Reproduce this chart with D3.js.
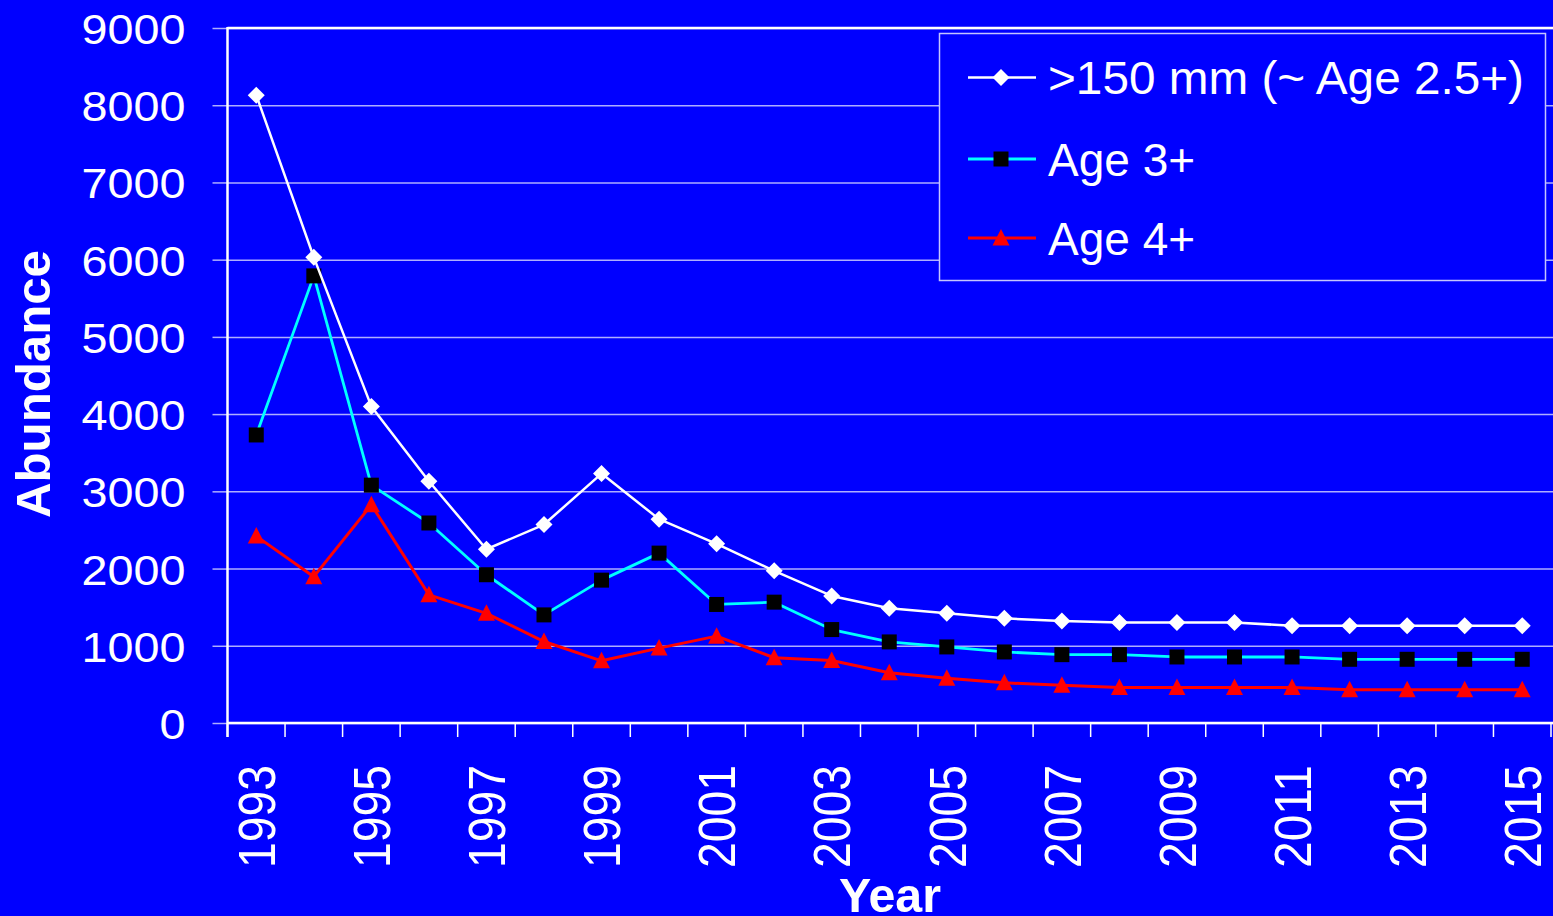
<!DOCTYPE html>
<html>
<head>
<meta charset="utf-8">
<script src="https://cdn.jsdelivr.net/npm/d3@7"></script>
<style>
  html, body { margin: 0; padding: 0; background: #0000ff; overflow: hidden; }
  svg { display: block; font-family: "Liberation Sans", Arial, sans-serif; }
</style>
</head>
<body>
<div id="chart"></div>
<script>
const years = ["1993","1994","1995","1996","1997","1998","1999","2000","2001","2002","2003","2004",
  "2005","2006","2007","2008","2009","2010","2011","2012","2013","2014","2015"];
const over150 = [8130, 6030, 4100, 3130, 2250, 2570, 3230, 2640, 2320, 1970, 1645, 1485,
  1420, 1355, 1320, 1300, 1300, 1300, 1260, 1260, 1260, 1260, 1260];
const age3 = [3730, 5790, 3080, 2590, 1920, 1400, 1850, 2200, 1535, 1565, 1210, 1050,
  985, 920, 885, 885, 855, 855, 855, 825, 825, 825, 825];
const age4 = [2420, 1895, 2825, 1660, 1420, 1055, 805, 970, 1125, 845, 810, 650,
  580, 520, 490, 460, 460, 460, 460, 430, 430, 430, 430];
const yTicks = [0, 1000, 2000, 3000, 4000, 5000, 6000, 7000, 8000, 9000];
const xLabels = ["1993","1995","1997","1999","2001","2003","2005","2007","2009","2011","2013","2015"];

const seriesNames = [">150 mm (~ Age 2.5+)", "Age 3+", "Age 4+"];

const width = 1553, height = 916;
const plotLeft = 227.5, plotRight = 1551, plotTop = 28, plotBottom = 723;
const gridColor = "#aeaeff";

const svg = d3.select("#chart").append("svg")
  .attr("width", width)
  .attr("height", height);

svg.append("rect").attr("width", width).attr("height", height).attr("fill", "#0000ff");

const x = d3.scaleBand().domain(years).range([plotLeft, plotRight]);
const y = d3.scaleLinear().domain([0, 9000]).range([plotBottom, plotTop]);

// gridlines + y ticks
const grid = svg.append("g")
  .attr("transform", `translate(${plotLeft},0)`)
  .call(d3.axisLeft(y).tickValues(yTicks).tickSize(-(width - plotLeft)).tickFormat(""));
grid.select(".domain").remove();
grid.selectAll("line").attr("stroke", gridColor).attr("stroke-width", 1.5);

const yAxis = svg.append("g")
  .attr("transform", `translate(${plotLeft},0)`)
  .call(d3.axisLeft(y).tickValues(yTicks).tickSize(15).tickPadding(27).tickFormat(d3.format("d")));
yAxis.select(".domain").remove();
yAxis.selectAll("line").attr("stroke", gridColor).attr("stroke-width", 1.5);
yAxis.selectAll("text")
  .attr("fill", "#fff")
  .attr("font-size", 43)
  .attr("dy", "0.36em")
  .attr("textLength", d => String(d).length * 26)
  .attr("lengthAdjust", "spacingAndGlyphs");

// x axis: boundary ticks
const bounds = years.map(d => x(d)).concat([plotRight]);
svg.append("g").selectAll("line")
  .data(bounds)
  .join("line")
  .attr("x1", d => d).attr("x2", d => d)
  .attr("y1", plotBottom).attr("y2", plotBottom + 14)
  .attr("stroke", "#fff").attr("stroke-width", 1.5);

const xAxis = svg.append("g")
  .attr("transform", `translate(0,${plotBottom})`)
  .call(d3.axisBottom(x).tickSize(0).tickFormat(d => xLabels.includes(d) ? d : ""));
xAxis.select(".domain").remove();
xAxis.selectAll("text")
  .attr("fill", "#fff")
  .attr("font-size", 52)
  .attr("x", 0).attr("y", 0)
  .attr("dy", "0.36em")
  .attr("text-anchor", "end")
  .attr("transform", "translate(0,42) rotate(-90)")
  .filter(d => xLabels.includes(d))
  .attr("textLength", 103)
  .attr("lengthAdjust", "spacingAndGlyphs");

// frame
svg.append("line").attr("x1", plotLeft).attr("x2", width).attr("y1", plotTop).attr("y2", plotTop)
  .attr("stroke", "#fff").attr("stroke-width", 2.5);
svg.append("line").attr("x1", plotLeft).attr("x2", width).attr("y1", plotBottom).attr("y2", plotBottom)
  .attr("stroke", "#fff").attr("stroke-width", 2.5);
svg.append("line").attr("x1", plotLeft).attr("x2", plotLeft).attr("y1", plotTop - 1).attr("y2", plotBottom + 14)
  .attr("stroke", "#fff").attr("stroke-width", 2.5);

// marker shapes
const diamond = "M0,-8.5L8.5,0L0,8.5L-8.5,0Z";
const square = "M-7.5,-7.5H7.5V7.5H-7.5Z";
const triangle = "M0,-9L8.5,7.5H-8.5Z";

const series = [
  {name: seriesNames[0], values: over150, stroke: "#ffffff", width: 2.5, shape: diamond, fill: "#ffffff"},
  {name: seriesNames[1], values: age3, stroke: "#00ffff", width: 2.8, shape: square, fill: "#000000"},
  {name: seriesNames[2], values: age4, stroke: "#ff0000", width: 3, shape: triangle, fill: "#ff0000"}
];

const line = d3.line()
  .x((d, i) => x(years[i]) + x.bandwidth() / 2)
  .y(d => y(d));

// draw bottom series first so white is on top
series.slice().reverse().forEach(s => {
  svg.append("path")
    .attr("d", line(s.values))
    .attr("fill", "none")
    .attr("stroke", s.stroke)
    .attr("stroke-width", s.width)
    .attr("stroke-linejoin", "round");
  svg.append("g").selectAll("path")
    .data(s.values)
    .join("path")
    .attr("d", s.shape)
    .attr("transform", (d, i) => `translate(${x(years[i]) + x.bandwidth() / 2},${y(d)})`)
    .attr("fill", s.fill);
});

// axis titles
svg.append("text")
  .attr("transform", "translate(50,384) rotate(-90)")
  .attr("text-anchor", "middle")
  .attr("font-size", 48).attr("font-weight", "bold")
  .attr("fill", "#fff")
  .attr("textLength", 268).attr("lengthAdjust", "spacingAndGlyphs")
  .text("Abundance");

svg.append("text")
  .attr("x", 890).attr("y", 912)
  .attr("text-anchor", "middle")
  .attr("font-size", 48).attr("font-weight", "bold")
  .attr("fill", "#fff")
  .attr("textLength", 102).attr("lengthAdjust", "spacingAndGlyphs")
  .text("Year");

// legend
const legend = svg.append("g");
legend.append("rect")
  .attr("x", 939.5).attr("y", 33.5).attr("width", 606).attr("height", 247)
  .attr("fill", "#0000ff").attr("stroke", "#c4c4ff").attr("stroke-width", 1.5);
const rowY = [77.5, 159, 238];
series.forEach((s, i) => {
  const g = legend.append("g").attr("transform", `translate(0,${rowY[i]})`);
  g.append("line").attr("x1", 968).attr("x2", 1036).attr("y1", 0).attr("y2", 0)
    .attr("stroke", s.stroke).attr("stroke-width", s.width);
  g.append("path").attr("d", s.shape).attr("transform", "translate(1001,0)").attr("fill", s.fill);
  const t = g.append("text")
    .attr("x", 1048).attr("dy", "0.36em")
    .attr("font-size", 46).attr("fill", "#fff")
    .text(s.name);
  if (i === 0) t.attr("textLength", 476).attr("lengthAdjust", "spacingAndGlyphs");
});
</script>
</body>
</html>
